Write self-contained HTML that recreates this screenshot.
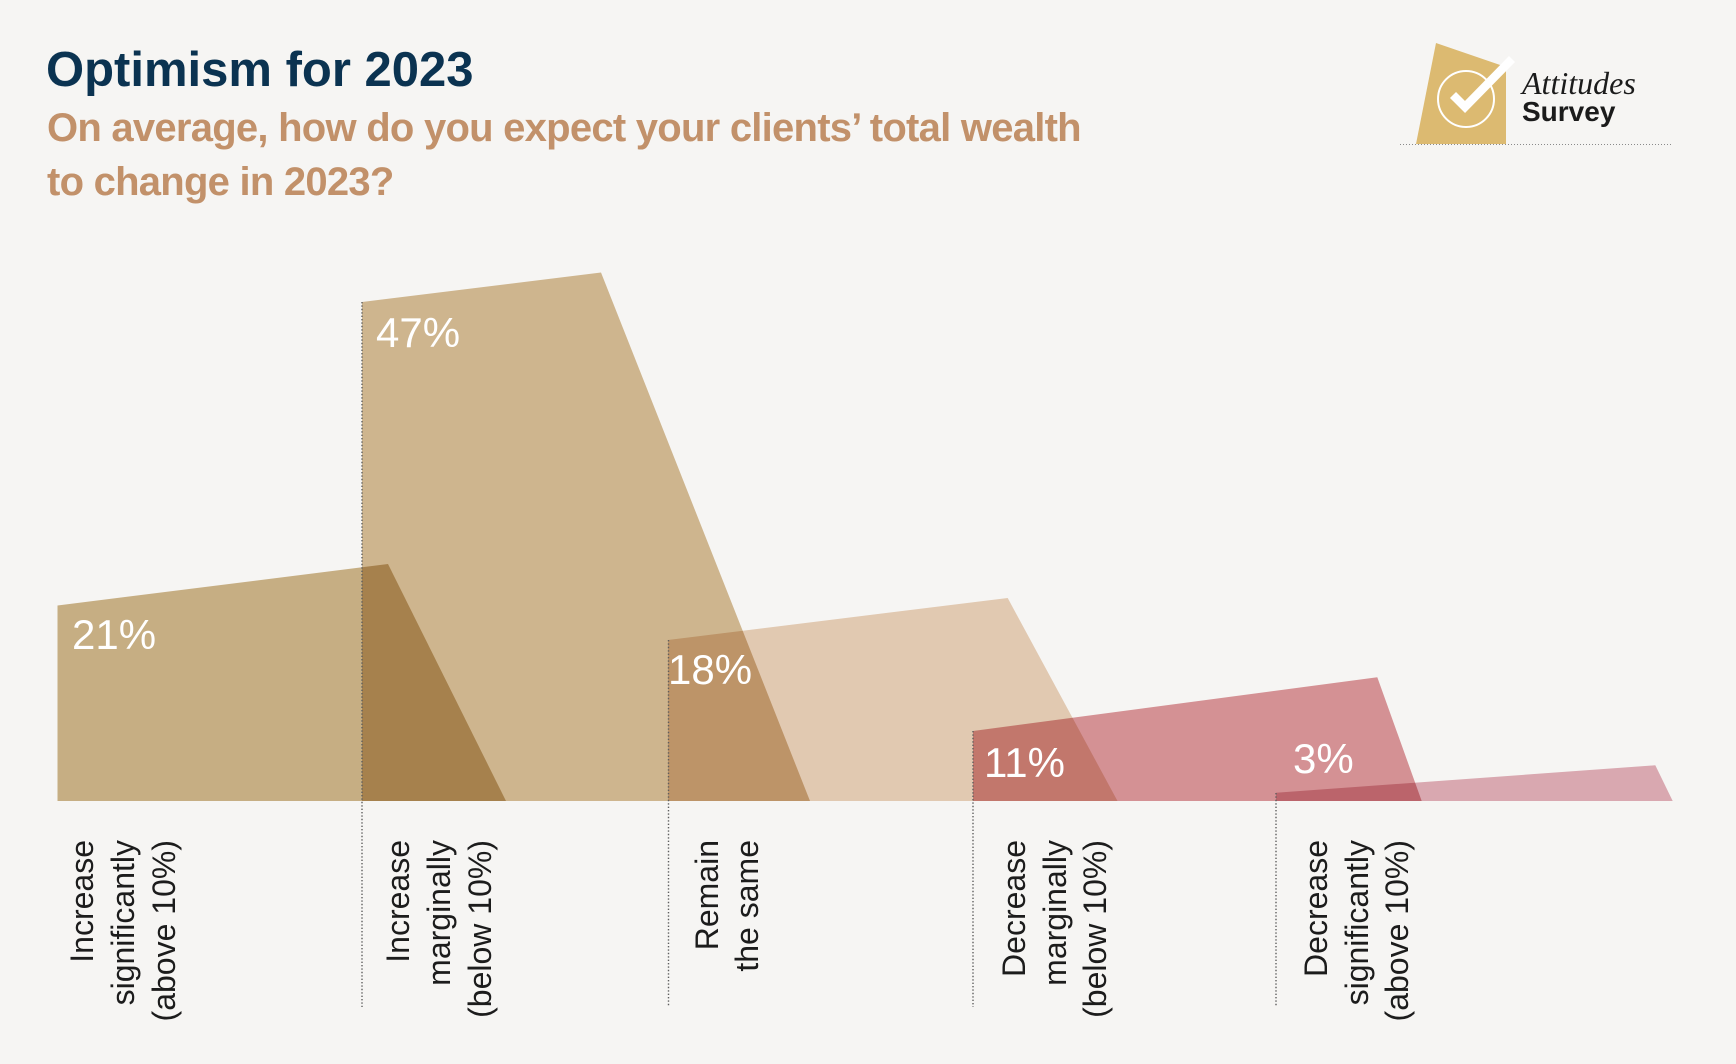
<!DOCTYPE html>
<html>
<head>
<meta charset="utf-8">
<style>
  html,body{margin:0;padding:0;background:#f6f5f3;}
  body{width:1736px;height:1064px;overflow:hidden;}
  svg{display:block;}
  .sans{font-family:"Liberation Sans", Arial, sans-serif;}
  .serif{font-family:"Liberation Serif", "Times New Roman", serif;}
  .shape{mix-blend-mode:multiply;}
</style>
</head>
<body>
<svg width="1736" height="1064" viewBox="0 0 1736 1064" xmlns="http://www.w3.org/2000/svg">
  <rect x="0" y="0" width="1736" height="1064" fill="#f6f5f3"/>

  <!-- Title -->
  <text class="sans" x="46" y="86" font-size="49" font-weight="bold" fill="#0b3351">Optimism for 2023</text>
  <text class="sans" x="47" y="141" font-size="40" font-weight="bold" fill="#c2916a" letter-spacing="-0.75">On average, how do you expect your clients’ total wealth</text>
  <text class="sans" x="47" y="195" font-size="40" font-weight="bold" fill="#c2916a" letter-spacing="-0.75">to change in 2023?</text>

  <!-- Logo -->
  <polygon points="1436,43 1506,67 1506,144 1416,144" fill="#dcba71"/>
  <circle cx="1466" cy="99" r="28" fill="none" stroke="#ffffff" stroke-width="2"/>
  <polyline points="1453,95 1465,107 1512,59" fill="none" stroke="#ffffff" stroke-width="8.5" stroke-linecap="butt" stroke-linejoin="miter"/>
  <text class="serif" x="1522" y="94" font-size="32" font-style="italic" fill="#1b1b1b">Attitudes</text>
  <text class="sans" x="1522" y="121" font-size="28" font-weight="bold" fill="#1b1b1b">Survey</text>
  <line x1="1400" y1="144.5" x2="1673" y2="144.5" stroke="#8a8a8a" stroke-width="1" stroke-dasharray="1 2"/>

  <!-- Chart shapes -->
  <g>
    <polygon class="shape" points="57.5,605.5 388,564 506,801 57.5,801" fill="#ceb589"/>
    <polygon class="shape" points="362,302 601,272.5 810,801 362,801" fill="#d6bd95"/>
    <polygon class="shape" points="668,640 1007.7,598 1117.5,801 668,801" fill="#ead1ba"/>
    <polygon class="shape" points="973,731 1377.3,677.3 1421.7,801 973,801" fill="#dc979b"/>
    <polygon class="shape" points="1276,792.7 1655.3,765.3 1672.7,801 1276,801" fill="#e1afb9"/>
  </g>

  <!-- Dotted guide lines -->
  <g stroke="#5e5e5e" stroke-width="1.4" stroke-dasharray="1.4 2">
    <line x1="362" y1="302" x2="362" y2="1007"/>
    <line x1="668.5" y1="640" x2="668.5" y2="1007"/>
    <line x1="973" y1="731" x2="973" y2="1007"/>
    <line x1="1276" y1="793" x2="1276" y2="1007"/>
  </g>

  <!-- Value labels -->
  <g class="sans" font-size="42" fill="#ffffff">
    <text x="72" y="649">21%</text>
    <text x="376" y="347">47%</text>
    <text x="668" y="684">18%</text>
    <text x="984" y="777">11%</text>
    <text x="1293" y="773">3%</text>
  </g>

  <!-- Category labels (rotated) -->
  <g class="sans" font-size="32" fill="#1c1c1c" text-anchor="end">
    <text transform="translate(93,840) rotate(-90)">Increase</text>
    <text transform="translate(134,840) rotate(-90)">significantly</text>
    <text transform="translate(175,840) rotate(-90)">(above 10%)</text>

    <text transform="translate(409,840) rotate(-90)">Increase</text>
    <text transform="translate(450,840) rotate(-90)">marginally</text>
    <text transform="translate(491,840) rotate(-90)">(below 10%)</text>

    <text transform="translate(718,840) rotate(-90)">Remain</text>
    <text transform="translate(758,840) rotate(-90)">the same</text>

    <text transform="translate(1025,840) rotate(-90)">Decrease</text>
    <text transform="translate(1066,840) rotate(-90)">marginally</text>
    <text transform="translate(1106,840) rotate(-90)">(below 10%)</text>

    <text transform="translate(1327,840) rotate(-90)">Decrease</text>
    <text transform="translate(1368,840) rotate(-90)">significantly</text>
    <text transform="translate(1408,840) rotate(-90)">(above 10%)</text>
  </g>
</svg>
</body>
</html>
